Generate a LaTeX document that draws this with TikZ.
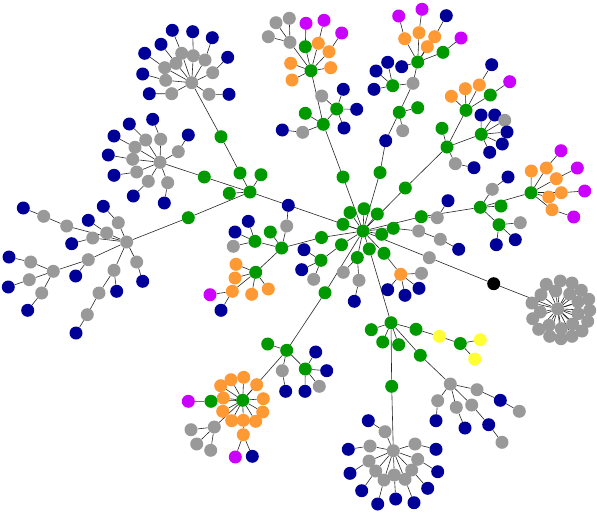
\documentclass[tikz,border=0pt]{standalone}
\usetikzlibrary{backgrounds}
\definecolor{cgreen}{RGB}{0,153,0}
\definecolor{cblue}{RGB}{0,0,153}
\definecolor{cgray}{RGB}{153,153,153}
\definecolor{corange}{RGB}{255,153,51}
\definecolor{cmag}{RGB}{204,0,255}
\definecolor{cyel}{RGB}{255,255,51}
\newcommand{\vx}[4]{\node[#1] (#2) at (#3,#4) {};}
\begin{document}
\begin{tikzpicture}[x=1pt,y=-1pt,
  nd/.style={circle,inner sep=0pt,minimum size=13pt},
  ng/.style={nd,fill=cgreen}, nb/.style={nd,fill=cblue}, ngr/.style={nd,fill=cgray},
  no/.style={nd,fill=corange}, nm/.style={nd,fill=cmag}, ny/.style={nd,fill=cyel},
  nk/.style={nd,fill=black},
  ln/.style={draw=black!85,line width=0.6pt}]
\useasboundingbox (0,0) rectangle (597,515);
% center
\vx{ng}{H}{363}{231}
\vx{ng}{c1}{350}{212.5}\vx{ng}{c2}{364}{208.7}\vx{ng}{c3}{377.3}{214}
\vx{ng}{c4}{343}{224.3}\vx{ng}{c5}{381.7}{234.3}\vx{ng}{c6}{393.3}{228.3}
\vx{ng}{c7}{421.3}{216.7}\vx{ng}{c8}{369.3}{249}\vx{ng}{c9}{384}{253.3}
\vx{ng}{c10}{357.3}{257.5}\vx{ng}{c11}{341.5}{244.7}\vx{ng}{c12}{321.5}{237.5}
\vx{ng}{c13}{343}{177}\vx{ng}{c14}{380}{172.5}\vx{ng}{c15}{405.3}{188}
\vx{ng}{c16}{325}{292.7}
% html chain and gray cluster
\vx{ngr}{r1}{429.3}{257.7}\vx{nk}{bk}{493.7}{283.7}
\foreach \px/\py [count=\i] in {546.3/284.3,560.3/281,572/283,581.3/290.3,588.7/299.3,589.7/310.3,587.7/321.3,582/331,572/336.3,561/338.7,549.7/336.3,538.7/329.3,532.7/318.7,532/303,541/294.7,555.7/291,569.7/294,578/302,578/313.7,572.7/324,561.3/328.7,549/325.3,540.3/312}
  {\node[ngr] (q\i) at (\px,\py) {};}
\vx{ngr}{cc}{557.8}{308.8}
% top center
\vx{ng}{t1}{323.3}{124.3}\vx{ng}{t0}{311}{70.7}\vx{ng}{t2}{305.3}{46.7}
\vx{no}{t3}{318.3}{43.3}\vx{no}{t4}{329}{51.7}\vx{no}{t5}{290.7}{63.3}
\vx{no}{t6}{330.7}{67.7}\vx{no}{t7}{292}{80}\vx{ngr}{t8}{290}{42.3}
\vx{nm}{m1}{306}{23.3}\vx{nm}{m2}{324}{20.3}\vx{nm}{m3}{341.7}{33}
\vx{ngr}{t9}{276}{22.7}\vx{ngr}{t10}{289.3}{18.3}\vx{ngr}{t11}{268.3}{36.7}
\vx{ng}{t12}{305.3}{113.3}\vx{ngr}{t13}{302.7}{132.3}\vx{nb}{t14}{282.3}{130}
\vx{ng}{t15}{336.7}{109}\vx{ngr}{t16}{321.7}{96}\vx{nb}{t17}{343.3}{89.3}
\vx{nb}{t18}{356.7}{109.3}\vx{nb}{t19}{344}{128}
% upper right
\vx{nb}{u1}{385.7}{140.7}\vx{ng}{u2}{399.3}{112.3}\vx{ngr}{u3}{413}{83.3}
\vx{ng}{u0}{417.7}{62}\vx{ng}{u4}{417.7}{107.7}\vx{ngr}{u5}{402.7}{130.7}
\vx{ng}{u6}{392.7}{85.7}\vx{nb}{u7}{387.7}{62.3}\vx{nb}{u8}{376}{71}
\vx{nb}{u9}{374}{89.3}\vx{nb}{u10}{401.7}{66.7}\vx{no}{u11}{404.7}{38.7}
\vx{no}{u12}{419}{32.7}\vx{no}{u13}{434.7}{36.7}\vx{no}{u14}{427.3}{46.7}
\vx{ng}{u15}{443}{52.3}\vx{nm}{u16}{398.7}{16}\vx{nm}{u17}{422}{9.3}
\vx{nb}{u18}{446.3}{15.7}\vx{nm}{u19}{461}{38}
% right upper
\vx{ng}{v1}{447}{147}\vx{ng}{v0}{466}{110.3}\vx{ng}{v2}{442}{128.3}
\vx{ng}{v3}{481.3}{134.3}\vx{ngr}{v4}{455.3}{163.7}\vx{nb}{v5}{474}{167.7}
\vx{no}{v6}{451.3}{96.3}\vx{no}{v7}{465.3}{88.7}\vx{no}{v8}{479.3}{85}
\vx{nb}{v9}{491.7}{64.7}\vx{ng}{v10}{490.3}{95}\vx{nm}{v11}{509.7}{81.7}
\vx{nb}{v12}{481}{115}\vx{nb}{v13}{494.7}{115}\vx{ngr}{v14}{504.7}{120.3}
\vx{nb}{v15}{507}{132}\vx{nb}{v16}{502.3}{144}\vx{nb}{v17}{489.7}{152.3}
% right
\vx{ng}{w0}{480.3}{207.3}\vx{ng}{w1}{501}{206}\vx{ngr}{w2}{492.3}{189.3}
\vx{nb}{w3}{508}{177}\vx{ng}{w4}{499}{224.7}\vx{ngr}{w5}{520.3}{222.7}
\vx{nb}{w6}{496.3}{244.7}\vx{nb}{w7}{515.3}{239.7}
\vx{ng}{x0}{531}{192.7}\vx{no}{x1}{531.3}{171}\vx{no}{x2}{546.3}{168}
\vx{no}{x3}{556.3}{178.7}\vx{no}{x4}{548.7}{197}\vx{no}{x5}{561.3}{192.7}
\vx{no}{x6}{552}{209.7}\vx{nm}{x7}{561}{150.7}\vx{nm}{x8}{577.3}{168}
\vx{nm}{x9}{584.7}{191}\vx{nm}{x10}{573.7}{217}
\vx{ngr}{y1}{418.7}{231}\vx{ngr}{y2}{440.3}{239.3}\vx{nb}{y3}{458.7}{249.3}
\vx{ngr}{y4}{437.3}{217.7}\vx{nb}{y5}{448}{200.7}
% near hub below
\vx{no}{o1}{400.7}{274.3}\vx{nb}{o2}{387.7}{289.7}\vx{nb}{o3}{405}{295.3}
\vx{nb}{o4}{419}{288.3}\vx{ngr}{o5}{421.5}{273.3}
\vx{ngr}{p1}{343.3}{272.3}\vx{ngr}{p2}{359}{280.3}\vx{nb}{p3}{354.3}{301.3}
\vx{ng}{z0}{321}{260.3}\vx{nb}{z1}{304}{249.7}\vx{nb}{z2}{301.7}{269.7}
\vx{ngr}{z3}{313.7}{279.3}
% left middle
\vx{ng}{L0}{281.7}{248}\vx{ng}{L3}{270.3}{232}\vx{ngr}{L4}{286.7}{226}
\vx{nb}{L5}{288.3}{205.3}\vx{ng}{L1}{255}{241.3}\vx{nb}{L6}{248.3}{221.3}
\vx{nb}{L7}{235}{232}\vx{ngr}{L8}{233.3}{246.3}\vx{ng}{L2}{255.7}{272.3}
\vx{no}{L9}{236}{264.3}\vx{no}{L10}{235}{278}\vx{no}{L11}{232.3}{291.3}
\vx{no}{L12}{251.7}{294.3}\vx{no}{L13}{268.3}{289}\vx{nm}{L14}{210}{294.7}
\vx{nb}{L15}{221}{310.3}
\vx{ng}{K0}{250}{192}\vx{ng}{K1}{229.3}{193.3}\vx{ng}{K2}{261}{174.7}
\vx{ng}{K3}{240}{173}\vx{ng}{K4}{221}{136.7}\vx{ng}{K5}{204.3}{177}
\vx{ng}{K6}{188.3}{217.7}
% top-left gray cluster
\vx{ngr}{A0}{191.7}{82.7}
\foreach \gx/\gy/\bx/\by [count=\i] in {181.7/53.3/172.3/30.3,193.3/55.7/192.7/31.7,176/63.3/161/44.3,164.7/67.7/144.7/53.3,165.7/80.3/142.7/74,171.7/93.7/149.3/93.7,205/60/212.3/37.7,212.7/72.7/227.7/57.3,209/94.3/229/94.3}
  {\node[ngr] (Ag\i) at (\gx,\gy) {}; \node[nb] (Ab\i) at (\bx,\by) {};}
\vx{ngr}{B0}{160}{162.3}
\foreach \gx/\gy/\bx/\by [count=\i] in {145.7/140/129.3/124,160.7/139.3/152.7/119.3,135/147.3/114/136,132.7/159.3/108.3/155,178.3/151.7/188.3/135,136.7/172/114/175.3,148.3/181.3/133.3/196,167.7/182.7/164.3/203}
  {\node[ngr] (Bg\i) at (\gx,\gy) {}; \node[nb] (Bb\i) at (\bx,\by) {};}
% left cluster
\vx{ngr}{C0}{126.7}{242}
\vx{ngr}{k1}{118.3}{222.7}\vx{nb}{kb1}{103.3}{206.3}
\vx{ngr}{k2}{106.7}{233}\vx{nb}{kb2}{88.3}{220.3}
\vx{ngr}{k3}{92.7}{238}\vx{nb}{kb3}{71.7}{243.7}
\vx{ngr}{k4}{66.7}{226}\vx{ngr}{k5}{43.7}{216.3}\vx{nb}{kb5}{23.3}{208}
\vx{ngr}{k6}{88.3}{259.7}\vx{nb}{kb6}{75.7}{276}
\vx{ngr}{S0}{53.3}{271.3}
\vx{ngr}{s1}{30.7}{262}\vx{nb}{sb1}{9}{257}
\vx{ngr}{s2}{29.3}{279.7}\vx{nb}{sb2}{8.3}{287}
\vx{ngr}{s3}{41.7}{293}\vx{nb}{sb3}{27.7}{310.3}
\vx{ngr}{k7}{136.7}{262}\vx{nb}{kb7}{142.7}{281.3}
\vx{ngr}{k8}{114}{270.3}\vx{nb}{kb8}{116.7}{291.3}
\vx{ngr}{k9}{99}{293}\vx{ngr}{k10}{87.3}{314.7}\vx{nb}{kb10}{76}{333}
% bottom left orange cluster
\vx{ng}{D1}{286.7}{350.3}\vx{ng}{D3}{267.7}{344}\vx{ngr}{D4}{282.3}{370.7}
\vx{nb}{D5}{285.7}{391.3}\vx{ng}{D2}{305.3}{369}\vx{nb}{D6}{315.7}{352}
\vx{nb}{D7}{326.7}{370.7}\vx{nb}{D8}{305}{391.3}\vx{ngr}{D9}{319.3}{386.3}
\vx{ng}{D0}{242.7}{400.3}
\foreach \px/\py [count=\i] in {256.7/384.7,243.7/377.3,231/379.7,220.7/385.7,223.3/398,222.7/411.3,231.7/420.7,243.3/420.3,255.7/421.3,262.7/412,263.3/398.7}
  {\node[no] (Do\i) at (\px,\py) {};}
\vx{ng}{Dg}{211}{401.3}\vx{nm}{Dm}{188.3}{401.3}
\vx{no}{Dq}{243.3}{434.7}\vx{nm}{Dq1}{235.3}{457}\vx{nb}{Dq2}{252.3}{456.3}
\vx{ngr}{Dy}{214.3}{427}\vx{ngr}{Dy1}{191}{429.7}\vx{ngr}{Dy2}{196.7}{444}
\vx{ngr}{Dy3}{210.7}{450.3}
% lower middle
\vx{ng}{E0}{391}{322.7}\vx{ng}{E1}{371.3}{329.7}\vx{ng}{E2}{382.7}{342}
\vx{ng}{E3}{398.7}{344.7}\vx{ng}{E4}{416}{329.3}\vx{ny}{E5}{439.3}{336.3}
\vx{ng}{E6}{460.3}{343.5}\vx{ny}{E7}{480.3}{339.7}\vx{ny}{E8}{474.7}{359}
\vx{ng}{E9}{420.3}{355.3}\vx{ng}{E10}{391.7}{386.3}
\vx{ngr}{F0}{450.3}{384}\vx{ngr}{f1}{477}{389.7}\vx{nb}{f2}{500.3}{400.3}
\vx{ngr}{f3}{519.3}{411.3}\vx{ngr}{f4}{437.7}{400.7}\vx{nb}{f5}{436}{420.7}
\vx{ngr}{f6}{456.3}{407.3}\vx{nb}{f7}{465}{428}\vx{ngr}{f8}{471.7}{405}
\vx{nb}{f9}{488.7}{424.7}\vx{ngr}{f10}{502}{442.3}
\vx{ngr}{G0}{393.3}{450.7}
\foreach \gx/\gy/\bx/\by [count=\i] in {385/431.7/368.3/420.7,370/446/348.3/449.3,369/461/350/473.3,375.7/471/361.7/490.7,384/480/377.7/504,394.3/475/395.7/499,405/479.3/414/502.7,411.7/470/427.7/488.3,417.7/459.3/437.7/471.7,415/444/436/449.3}
  {\node[ngr] (Gg\i) at (\gx,\gy) {}; \node[nb] (Gb\i) at (\bx,\by) {};}
% ---------------- edges ----------------
\begin{pgfonlayer}{background}
\fill[white] (0,0) rectangle (597,515);
\foreach \n in {c1,c2,c3,c4,c5,c6,c7,c8,c9,c10,c11,c12,c13,c14,c15,c16,r1,K0}
  {\draw[ln] (H) -- (\n);}
\draw[ln] (r1) -- (bk) -- (cc);
\foreach \i in {1,...,23} {\draw[ln] (cc) -- (q\i);}
\draw[ln] (c13) -- (t1) -- (t0);
\foreach \n in {t2,t3,t4,t5,t6,t7,t8} {\draw[ln] (t0) -- (\n);}
\draw[ln] (t2) -- (m1) (t3) -- (m2) (t4) -- (m3);
\draw[ln] (t8) -- (t9) (t8) -- (t10) (t8) -- (t11);
\draw[ln] (t1) -- (t12) (t1) -- (t13) -- (t14) (t1) -- (t15);
\draw[ln] (t15) -- (t16) (t15) -- (t17) (t15) -- (t18) (t15) -- (t19);
\draw[ln] (c14) -- (u1) -- (u2) -- (u3) -- (u0);
\draw[ln] (u2) -- (u4) (u2) -- (u5) (u3) -- (u6);
\draw[ln] (u6) -- (u7) (u6) -- (u8) (u6) -- (u9);
\foreach \n in {u10,u11,u12,u13,u14,u15} {\draw[ln] (u0) -- (\n);}
\draw[ln] (u11) -- (u16) (u12) -- (u17) (u13) -- (u18) (u15) -- (u19);
\draw[ln] (c15) -- (v1) -- (v0);
\draw[ln] (v1) -- (v2) (v1) -- (v3) (v1) -- (v4) -- (v5);
\foreach \n in {v6,v7,v8,v10} {\draw[ln] (v0) -- (\n);}
\draw[ln] (v8) -- (v9) (v10) -- (v11);
\foreach \n in {v12,v13,v14,v15,v16,v17} {\draw[ln] (v3) -- (\n);}
\draw[ln] (c7) -- (w0) (c7) -- (y4) -- (y5);
\draw[ln] (w0) -- (w1) (w0) -- (w2) -- (w3) (w0) -- (w4) (w0) -- (x0);
\draw[ln] (w4) -- (w5) (w4) -- (w6) (w4) -- (w7);
\foreach \n in {x1,x2,x3,x4,x5,x6} {\draw[ln] (x0) -- (\n);}
\draw[ln] (x2) -- (x7) (x3) -- (x8) (x5) -- (x9) (x6) -- (x10);
\draw[ln] (c6) -- (y1) -- (y2) -- (y3);
\draw[ln] (c9) -- (o1);
\foreach \n in {o2,o3,o4,o5} {\draw[ln] (o1) -- (\n);}
\draw[ln] (c10) -- (p1) (c10) -- (p2) -- (p3);
\draw[ln] (c11) -- (z0);
\draw[ln] (z0) -- (z1) (z0) -- (z2) (z0) -- (z3);
\draw[ln] (c12) -- (L0);
\draw[ln] (L0) -- (L3) (L0) -- (L4) -- (L5) (L0) -- (L1) (L0) -- (L2);
\draw[ln] (L1) -- (L6) (L1) -- (L7) (L1) -- (L8);
\foreach \n in {L9,L10,L11,L12,L13} {\draw[ln] (L2) -- (\n);}
\draw[ln] (L11) -- (L14) (L11) -- (L15);
\draw[ln] (K0) -- (K1) (K0) -- (K2) (K0) -- (K3) -- (K4) -- (A0);
\draw[ln] (K0) -- (K5) -- (B0) (K0) -- (K6) -- (C0);
\foreach \i in {1,...,9} {\draw[ln] (A0) -- (Ag\i) -- (Ab\i);}
\foreach \i in {1,...,8} {\draw[ln] (B0) -- (Bg\i) -- (Bb\i);}
\draw[ln] (C0) -- (k1) -- (kb1) (C0) -- (k2) -- (kb2) (C0) -- (k3) -- (kb3);
\draw[ln] (C0) -- (k4) -- (k5) -- (kb5) (C0) -- (k6) -- (kb6) (k6) -- (S0);
\draw[ln] (S0) -- (s1) -- (sb1) (S0) -- (s2) -- (sb2) (S0) -- (s3) -- (sb3);
\draw[ln] (C0) -- (k7) -- (kb7) (C0) -- (k8) -- (kb8) (k8) -- (k9) -- (k10) -- (kb10);
\draw[ln] (c16) -- (D1) -- (D0);
\draw[ln] (D1) -- (D3) (D1) -- (D4) -- (D5) (D1) -- (D2);
\foreach \n in {D6,D7,D8,D9} {\draw[ln] (D2) -- (\n);}
\foreach \i in {1,...,11} {\draw[ln] (D0) -- (Do\i);}
\draw[ln] (D0) -- (Dg) -- (Dm) (Do8) -- (Dq) (Dq) -- (Dq1) (Dq) -- (Dq2);
\draw[ln] (D0) -- (Dy) (Dy) -- (Dy1) (Dy) -- (Dy2) (Dy) -- (Dy3);
\draw[ln] (c8) -- (E0);
\draw[ln] (E0) -- (E1) (E0) -- (E2) (E0) -- (E3) (E0) -- (E4) -- (E5) -- (E6);
\draw[ln] (E6) -- (E7) (E6) -- (E8) (E0) -- (E9) -- (F0) (E0) -- (E10) -- (G0);
\draw[ln] (F0) -- (f1) -- (f2) -- (f3) (F0) -- (f4) -- (f5) (F0) -- (f6) -- (f7);
\draw[ln] (F0) -- (f8) -- (f9) -- (f10);
\foreach \i in {1,...,10} {\draw[ln] (G0) -- (Gg\i) -- (Gb\i);}
\end{pgfonlayer}
\end{tikzpicture}
\end{document}
